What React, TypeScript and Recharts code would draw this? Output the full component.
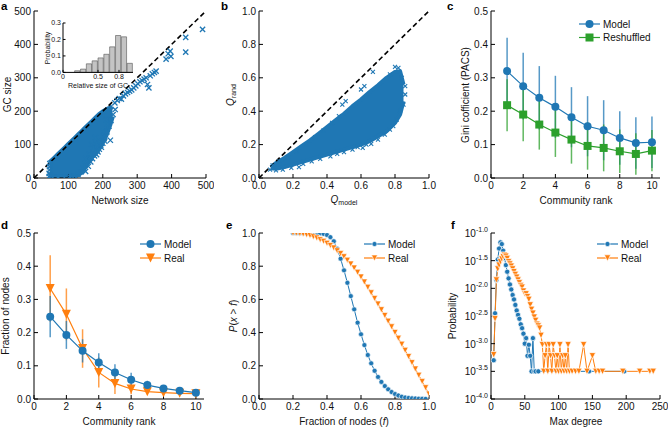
import React from 'react';
import { ComposedChart, Area, Scatter, Line, Bar, XAxis, YAxis, ReferenceLine, ErrorBar } from 'recharts';

const BLUE = '#1f77b4';
const ORANGE = '#ff7f0e';
const GREEN = '#2ca02c';
const FONT = '"Liberation Sans", Arial, sans-serif';
const FS = 10;
const INK = '#111';

// ---- a: GC size vs network size ----
const cloudAX = [45, 50, 60, 70, 80, 90, 100, 110, 120, 130, 140, 150, 160, 170, 180, 190, 200, 210, 220, 228];
const cloudALow = [3, 3, 3, 3, 3, 3, 4, 5, 7, 11, 20, 36, 52, 65, 76, 90, 108, 130, 158, 185];
const cloudAHigh = [46, 50, 60, 70, 80, 90, 100, 110, 120, 130, 140, 150, 160, 170, 180, 190, 198, 204, 209, 214];
const scatterA: [number, number][] = [
  [44, 4], [44, 14], [45, 24], [45, 34], [46, 43], [47, 8],
  [55, 2], [70, 3], [88, 2], [104, 4], [118, 6], [128, 10], [136, 18], [142, 28], [148, 40], [155, 52],
  [163, 63], [172, 72], [183, 84], [194, 98], [204, 118], [212, 138], [218, 155], [224, 172],
  [150, 20], [158, 35], [165, 48], [170, 58], [176, 66], [182, 70], [186, 78], [190, 86], [196, 92],
  [200, 104], [206, 110], [222, 113], [172, 90], [160, 72], [150, 58], [180, 105], [188, 112],
  [202, 140], [214, 162], [230, 190], [236, 205], [178, 120], [168, 100], [210, 175],
  [235, 225], [242, 232], [248, 238], [254, 236], [260, 246], [266, 252], [272, 256], [278, 260],
  [284, 264], [290, 270], [296, 276], [302, 282], [308, 288], [314, 292], [320, 296], [326, 300],
  [330, 280], [334, 270], [338, 306], [344, 312], [350, 316], [355, 320], [384, 356], [390, 372],
  [396, 380], [398, 364], [441, 421], [441, 377], [490, 445],
];
const histBins = [0.208, 0.292, 0.375, 0.458, 0.542, 0.625, 0.708, 0.792, 0.875, 0.958];
const histProb = [0.01, 0.02, 0.052, 0.07, 0.088, 0.11, 0.155, 0.224, 0.216, 0.055];

// ---- b: Q_rand vs Q_model ----
const cloudBX = [0.07, 0.1, 0.15, 0.2, 0.25, 0.3, 0.35, 0.4, 0.45, 0.5, 0.55, 0.6, 0.65, 0.7, 0.75, 0.8, 0.83, 0.85];
const cloudBLow = [0.058, 0.055, 0.065, 0.08, 0.095, 0.11, 0.125, 0.14, 0.155, 0.17, 0.185, 0.2, 0.22, 0.25, 0.28, 0.33, 0.38, 0.46];
const cloudBHigh = [0.065, 0.09, 0.12, 0.155, 0.19, 0.225, 0.265, 0.305, 0.345, 0.385, 0.43, 0.47, 0.515, 0.555, 0.6, 0.635, 0.64, 0.56];
const scatterB: [number, number][] = [
  [0.065, 0.05], [0.08, 0.075], [0.1, 0.045], [0.12, 0.1], [0.14, 0.05], [0.17, 0.125], [0.19, 0.06],
  [0.235, 0.065], [0.22, 0.16], [0.26, 0.085], [0.28, 0.2], [0.31, 0.1], [0.33, 0.245], [0.36, 0.115],
  [0.38, 0.285], [0.42, 0.13], [0.43, 0.33], [0.46, 0.145], [0.47, 0.37], [0.49, 0.44], [0.51, 0.46],
  [0.5, 0.155], [0.55, 0.17], [0.58, 0.185], [0.61, 0.18], [0.632, 0.2], [0.66, 0.205], [0.6, 0.53],
  [0.62, 0.55], [0.67, 0.635], [0.7, 0.23], [0.74, 0.26], [0.77, 0.29], [0.79, 0.31], [0.81, 0.35],
  [0.83, 0.4], [0.85, 0.44], [0.86, 0.5], [0.86, 0.55], [0.84, 0.6], [0.82, 0.66], [0.8, 0.665], [0.77, 0.62],
];

// ---- c: Gini coefficient vs community rank ----
const ranks = [1, 2, 3, 4, 5, 6, 7, 8, 9, 10];
const giniModel = [0.32, 0.275, 0.24, 0.213, 0.182, 0.155, 0.143, 0.12, 0.105, 0.107];
const giniModelErr = [0.1, 0.1, 0.095, 0.093, 0.09, 0.09, 0.09, 0.08, 0.077, 0.077];
const giniShuffled = [0.218, 0.19, 0.16, 0.136, 0.115, 0.096, 0.09, 0.08, 0.072, 0.082];
const giniShuffledErr = [0.078, 0.08, 0.075, 0.073, 0.072, 0.071, 0.07, 0.065, 0.062, 0.062];

// ---- d: fraction of nodes vs community rank ----
const fracModel = [0.248, 0.193, 0.145, 0.11, 0.08, 0.058, 0.042, 0.032, 0.025, 0.019];
const fracModelErr = [0.062, 0.042, 0.035, 0.028, 0.025, 0.021, 0.013, 0.008, 0.006, 0.004];
const fracReal = [0.333, 0.255, 0.152, 0.08, 0.047, 0.03, 0.022, 0.019, 0.017, 0.016];
const fracRealErr = [0.1, 0.078, 0.058, 0.045, 0.032, 0.016, 0.008, 0.005, 0.004, 0.003];

// ---- e: P(x > f) ----
const fGrid = [0.2, 0.22, 0.24, 0.26, 0.28, 0.3, 0.32, 0.34, 0.36, 0.38, 0.4, 0.42, 0.44, 0.46, 0.48, 0.5, 0.52,
  0.54, 0.56, 0.58, 0.6, 0.62, 0.64, 0.66, 0.68, 0.7, 0.72, 0.74, 0.76, 0.78, 0.8, 0.82, 0.84, 0.86, 0.88,
  0.9, 0.92, 0.94, 0.96, 0.98, 1.0];
const cdfModel = [1, 1, 1, 1, 1, 1, 1, 0.999, 0.998, 0.995, 0.988, 0.975, 0.95, 0.905, 0.845, 0.775, 0.7,
  0.62, 0.54, 0.46, 0.39, 0.325, 0.265, 0.215, 0.17, 0.133, 0.103, 0.078, 0.058, 0.042, 0.03, 0.021, 0.014,
  0.009, 0.006, 0.004, 0.003, 0.002, 0.001, 0.0005];
const cdfReal = [1, 0.999, 0.997, 0.994, 0.99, 0.985, 0.978, 0.97, 0.96, 0.95, 0.938, 0.925, 0.91, 0.893,
  0.876, 0.857, 0.836, 0.813, 0.789, 0.763, 0.735, 0.705, 0.673, 0.64, 0.606, 0.572, 0.538, 0.503, 0.469,
  0.435, 0.401, 0.366, 0.33, 0.293, 0.256, 0.219, 0.181, 0.143, 0.105, 0.068, 0.03];

// ---- f: max degree distribution (log10 probability) ----
const degModel = [4, 6, 8, 10, 12, 14, 16, 18, 20, 22, 24, 26, 28, 30, 32, 34, 36, 38, 40, 42, 44, 46, 48,
  50, 52, 54, 56, 58, 60, 62, 64, 66, 70, 145, 197];
const logpModel = [-3.3, -2.45, -1.85, -1.48, -1.28, -1.17, -1.2, -1.32, -1.45, -1.58, -1.7, -1.82, -1.93,
  -2.02, -2.12, -2.2, -2.3, -2.4, -2.48, -2.55, -2.65, -2.72, -2.82, -3.0, -2.9, -3.22, -3.02, -3.22, -3.5,
  -2.9, -3.5, -3.5, -3.5, -3.5, -3.5];
const degReal = [4, 6, 8, 10, 12, 14, 16, 18, 20, 22, 24, 26, 28, 30, 32, 34, 36, 38, 40, 42, 44, 46, 48, 50,
  52, 54, 56, 58, 60, 62, 64, 66, 68, 70, 72, 74, 76, 78, 80, 82, 84, 86, 88, 90, 92, 94, 96, 98, 100, 102,
  104, 106, 108, 110, 112, 114, 116, 120, 125, 130, 137, 142, 150, 155, 160, 165, 195, 220, 235, 240];
const logpReal = [-3.2, -2.55, -1.85, -1.65, -1.58, -1.52, -1.47, -1.43, -1.4, -1.42, -1.46, -1.52, -1.56,
  -1.6, -1.65, -1.7, -1.75, -1.8, -1.85, -1.9, -1.95, -1.98, -2.05, -2.1, -2.1, -2.15, -2.2, -2.3, -2.38,
  -2.45, -2.52, -2.58, -2.65, -2.68, -2.72, -2.85, -3.02, -3.5, -3.22, -3.02, -3.5, -3.02, -3.22, -3.5,
  -3.02, -3.22, -3.5, -3.22, -3.5, -3.02, -3.5, -3.22, -3.5, -3.22, -3.5, -3.02, -3.5, -3.5, -3.5, -3.5,
  -3.02, -3.5, -3.22, -3.5, -3.5, -3.5, -3.5, -3.5, -3.5, -3.5];

const PL = 40, PR = 8, PT = 8, PB = 30;
type Box = { l: number; r: number; t: number; b: number };
const boxA: Box = { l: 34, r: 206, t: 11, b: 178 };
const boxInset: Box = { l: 63.3, r: 133.3, t: 23.3, b: 72.7 };
const boxB: Box = { l: 259, r: 429, t: 11, b: 178 };
const boxC: Box = { l: 491, r: 660, t: 11, b: 178 };
const boxD: Box = { l: 34, r: 204, t: 233, b: 399 };
const boxE: Box = { l: 259, r: 429, t: 233, b: 399 };
const boxF: Box = { l: 491, r: 660, t: 233, b: 399 };

const fmt0 = (v: number) => String(v);
const fmt1 = (v: number) => v.toFixed(1);

function frame(o: {
  xd: number[]; xt: number[]; yd: number[]; yt: number[];
  xf: (v: number) => string; yf: (v: number) => string;
  yTick?: any; fs?: number; tk?: number; pl?: number; pb?: number; xm?: number; ym?: number;
}) {
  const fs = o.fs ?? FS, tk = o.tk ?? 4;
  const style = { fill: INK, fontSize: fs, fontFamily: FONT };
  const ln = { stroke: '#000', strokeWidth: 1 };
  return [
    <XAxis key="xb" type="number" dataKey="x" domain={o.xd} ticks={o.xt} allowDataOverflow interval={0}
      tickFormatter={o.xf} tickSize={-tk} tickMargin={tk + (o.xm ?? 4)} height={o.pb ?? PB} axisLine={ln} tickLine={ln} tick={style} />,
    <XAxis key="xt" xAxisId="top" orientation="top" type="number" dataKey="x" domain={o.xd} ticks={o.xt}
      allowDataOverflow interval={0} tickSize={-tk} height={0} axisLine={ln} tickLine={ln} tick={false} />,
    <YAxis key="yl" type="number" dataKey="y" domain={o.yd} ticks={o.yt} allowDataOverflow interval={0}
      tickFormatter={o.yf} tickSize={-tk} tickMargin={tk + (o.ym ?? 3)} width={o.pl ?? PL} axisLine={ln} tickLine={ln}
      tick={o.yTick ?? style} />,
    <YAxis key="yr" yAxisId="right" orientation="right" type="number" dataKey="y" domain={o.yd} ticks={o.yt}
      allowDataOverflow interval={0} tickSize={-tk} width={0} axisLine={ln} tickLine={ln} tick={false} />,
  ];
}

function Panel({ box, data, children, pl = PL, pr = PR, pt = PT, pb = PB }: any) {
  const w = box.r - box.l + pl + pr;
  const h = box.b - box.t + pt + pb;
  return (
    <div style={{ position: 'absolute', left: box.l - pl, top: box.t - pt }}>
      <ComposedChart width={w} height={h} data={data} margin={{ top: pt, right: pr, bottom: 0, left: 0 }}>
        {children}
      </ComposedChart>
    </div>
  );
}

const xMark = (s: number, w: number) => (p: any) => {
  const { cx, cy } = p;
  if (cx == null || cy == null) return <g />;
  return <path d={`M${cx - s},${cy - s}L${cx + s},${cy + s}M${cx - s},${cy + s}L${cx + s},${cy - s}`}
    stroke={BLUE} strokeWidth={w} fill="none" />;
};

function glyph(kind: string, s: number, color: string, edge: number, cx: number, cy: number, key?: any) {
  const st = edge ? { stroke: '#fff', strokeWidth: edge } : { stroke: 'none' };
  if (kind === 'o') return <circle key={key} cx={cx} cy={cy} r={s} fill={color} {...st} />;
  if (kind === 's') return <rect key={key} x={cx - s} y={cy - s} width={2 * s} height={2 * s} fill={color} {...st} />;
  return <path key={key} d={`M${cx - s},${cy - s}L${cx + s},${cy - s}L${cx},${cy + s}Z`} fill={color} {...st} />;
}

const marker = (kind: string, s: number, color: string, edge = 0) => (p: any) => {
  const { cx, cy, index } = p;
  if (cx == null || cy == null) return <g key={`m${index}`} />;
  return glyph(kind, s, color, edge, cx, cy, `m${index}`);
};

const PowTick = (p: any) => {
  const { x, y, payload } = p;
  return (
    <text x={x} y={y} dy={4} textAnchor="end" fontSize={FS} fontFamily={FONT} fill={INK}>
      <tspan>10</tspan>
      <tspan dy={-5} fontSize={7}>{Number(payload.value).toFixed(1)}</tspan>
    </text>
  );
};

const cloudA = cloudAX.map((x, i) => ({ x, low: cloudALow[i], high: cloudAHigh[i] }));
const ptsA = scatterA.map(([x, y]) => ({ x, y }));
const hist = histBins.map((x, i) => ({ x, p: histProb[i] }));
const cloudB = cloudBX.map((x, i) => ({ x, low: cloudBLow[i], high: cloudBHigh[i] }));
const ptsB = scatterB.map(([x, y]) => ({ x, y }));
const cModel = ranks.map((x, i) => ({ x, y: giniModel[i], err: giniModelErr[i] }));
const cShuf = ranks.map((x, i) => ({ x, y: giniShuffled[i], err: giniShuffledErr[i] }));
const dModel = ranks.map((x, i) => ({ x, y: fracModel[i], err: fracModelErr[i] }));
const dReal = ranks.map((x, i) => ({ x, y: fracReal[i], err: fracRealErr[i] }));
const eModel = cdfModel.map((y, i) => ({ x: fGrid[i], y }));
const eReal = cdfReal.map((y, i) => ({ x: fGrid[i], y }));
const fModel = degModel.map((x, i) => ({ x, y: logpModel[i] }));
const fReal = degReal.map((x, i) => ({ x, y: logpReal[i] }));

const range = (d: any) => [d.low, d.high];

function LegendRow({ x, y, kind, s, color, edge = 0, label }: any) {
  return (
    <g>
      <line x1={x} x2={x + 21} y1={y} y2={y} stroke={color} strokeWidth={1.2} />
      {glyph(kind, s, color, edge, x + 10.5, y)}
      <text x={x + 24} y={y + 3.6} fontSize={FS} fontFamily={FONT} fill={INK}>{label}</text>
    </g>
  );
}

function YTitle({ cx, cy, children }: any) {
  return (
    <text transform={`translate(${cx},${cy}) rotate(-90)`} textAnchor="middle" dy="0.35em"
      fontSize={FS} fontFamily={FONT} fill={INK}>{children}</text>
  );
}

function XTitle({ cx, cy, children }: any) {
  return <text x={cx} y={cy} dy="0.35em" textAnchor="middle" fontSize={FS} fontFamily={FONT} fill={INK}>{children}</text>;
}

function Letter({ x, y, children }: any) {
  return <text x={x} y={y} fontSize={11.5} fontWeight="bold" fontFamily={FONT} fill="#000">{children}</text>;
}

export default function App() {
  return (
    <div style={{ position: 'absolute', left: 0, top: 0, width: 669, height: 428, background: '#fff', overflow: 'hidden' }}>
      <Panel box={boxA} data={cloudA}>
        {frame({ xd: [0, 500], xt: [0, 100, 200, 300, 400, 500], yd: [0, 500], yt: [0, 100, 200, 300, 400, 500], xf: fmt0, yf: fmt0 })}
        <Area dataKey={range} type="linear" stroke={BLUE} strokeWidth={5} strokeLinejoin="round" fill={BLUE}
          fillOpacity={1} dot={false} activeDot={false} isAnimationActive={false} />
        <Scatter data={ptsA} shape={xMark(2.6, 1.3)} isAnimationActive={false} />
        <ReferenceLine segment={[{ x: 0, y: 0 }, { x: 500, y: 500 }]} stroke="#000" strokeWidth={1.6} strokeDasharray="5 3" />
      </Panel>

      <Panel box={boxInset} data={hist} pl={20} pr={3} pt={3} pb={14}>
        {frame({ xd: [0, 1], xt: [0, 0.5, 0.8], yd: [0, 0.3], yt: [0, 0.1, 0.2, 0.3], xf: fmt0, yf: fmt1, fs: 7, tk: 2.5, pl: 20, pb: 14, xm: 1.5, ym: 2 })}
        <Bar dataKey="p" barSize={70 / 12} fill="#c4c4c4" stroke="#555" strokeWidth={0.6} isAnimationActive={false} />
      </Panel>

      <Panel box={boxB} data={cloudB}>
        {frame({ xd: [0, 1], xt: [0, 0.2, 0.4, 0.6, 0.8, 1], yd: [0, 1], yt: [0, 0.2, 0.4, 0.6, 0.8, 1], xf: fmt1, yf: fmt1 })}
        <Area dataKey={range} type="linear" stroke={BLUE} strokeWidth={4} strokeLinejoin="round" fill={BLUE}
          fillOpacity={1} dot={false} activeDot={false} isAnimationActive={false} />
        <Scatter data={ptsB} shape={xMark(2, 1.1)} isAnimationActive={false} />
        <ReferenceLine segment={[{ x: 0, y: 0 }, { x: 1, y: 1 }]} stroke="#000" strokeWidth={1.6} strokeDasharray="5 3" />
      </Panel>

      <Panel box={boxC}>
        {frame({ xd: [0, 10.5], xt: [0, 2, 4, 6, 8, 10], yd: [0, 0.5], yt: [0, 0.1, 0.2, 0.3, 0.4, 0.5], xf: fmt0, yf: fmt1 })}
        <Line data={cModel} dataKey="y" stroke={BLUE} strokeWidth={1.2} dot={marker('o', 4, BLUE)} activeDot={false} isAnimationActive={false}>
          <ErrorBar dataKey="err" width={0} stroke={BLUE} strokeOpacity={0.75} strokeWidth={1.5} direction="y" isAnimationActive={false} />
        </Line>
        <Line data={cShuf} dataKey="y" stroke={GREEN} strokeWidth={1.2} dot={marker('s', 4, GREEN)} activeDot={false} isAnimationActive={false}>
          <ErrorBar dataKey="err" width={0} stroke={GREEN} strokeOpacity={0.75} strokeWidth={1.5} direction="y" isAnimationActive={false} />
        </Line>
      </Panel>

      <Panel box={boxD}>
        {frame({ xd: [0, 10.5], xt: [0, 2, 4, 6, 8, 10], yd: [0, 0.5], yt: [0, 0.1, 0.2, 0.3, 0.4, 0.5], xf: fmt0, yf: fmt1 })}
        <Line data={dReal} dataKey="y" stroke={ORANGE} strokeWidth={1.2} dot={marker('v', 4.5, ORANGE)} activeDot={false} isAnimationActive={false}>
          <ErrorBar dataKey="err" width={0} stroke={ORANGE} strokeOpacity={0.75} strokeWidth={1.5} direction="y" isAnimationActive={false} />
        </Line>
        <Line data={dModel} dataKey="y" stroke={BLUE} strokeWidth={1.2} dot={marker('o', 4, BLUE)} activeDot={false} isAnimationActive={false}>
          <ErrorBar dataKey="err" width={0} stroke={BLUE} strokeOpacity={0.75} strokeWidth={1.5} direction="y" isAnimationActive={false} />
        </Line>
      </Panel>

      <Panel box={boxE}>
        {frame({ xd: [0, 1], xt: [0, 0.2, 0.4, 0.6, 0.8, 1], yd: [0, 1], yt: [0, 0.2, 0.4, 0.6, 0.8, 1], xf: fmt1, yf: fmt1 })}
        <Line data={eModel} dataKey="y" stroke={BLUE} strokeWidth={1} dot={marker('o', 2.5, BLUE, 0.6)} activeDot={false} isAnimationActive={false} />
        <Line data={eReal} dataKey="y" stroke={ORANGE} strokeWidth={1} dot={marker('v', 3, ORANGE, 0.6)} activeDot={false} isAnimationActive={false} />
      </Panel>

      <Panel box={boxF}>
        {frame({ xd: [0, 250], xt: [0, 50, 100, 150, 200, 250], yd: [-4, -1], yt: [-4, -3.5, -3, -2.5, -2, -1.5, -1], xf: fmt0, yf: fmt1, yTick: <PowTick /> })}
        <Line data={fModel} dataKey="y" stroke={BLUE} strokeWidth={1} dot={marker('o', 2.6, BLUE, 0.7)} activeDot={false} isAnimationActive={false} />
        <Line data={fReal} dataKey="y" stroke={ORANGE} strokeWidth={1} dot={marker('v', 3.2, ORANGE, 0.7)} activeDot={false} isAnimationActive={false} />
      </Panel>

      <svg width={669} height={428} style={{ position: 'absolute', left: 0, top: 0, pointerEvents: 'none' }}>
        <Letter x={1} y={10}>a</Letter>
        <Letter x={221} y={10}>b</Letter>
        <Letter x={447} y={10}>c</Letter>
        <Letter x={1} y={229}>d</Letter>
        <Letter x={226} y={229}>e</Letter>
        <Letter x={451} y={229}>f</Letter>

        <YTitle cx={7} cy={94.5}>GC size</YTitle>
        <XTitle cx={120} cy={200}>Network size</XTitle>
        <text transform="translate(48,48) rotate(-90)" textAnchor="middle" dy="0.35em" fontSize={7} fontFamily={FONT} fill={INK}>Probability</text>
        <text x={98} y={86} dy="0.35em" textAnchor="middle" fontSize={7} fontFamily={FONT} fill={INK}>Relative size of GC</text>

        <text transform="translate(230,95) rotate(-90)" textAnchor="middle" dy="0.35em" fontSize={FS} fontFamily={FONT} fill={INK}>
          <tspan fontStyle="italic">Q</tspan><tspan fontSize={7} dy={2.5}>rand</tspan>
        </text>
        <text x={344} y={199} dy="0.35em" textAnchor="middle" fontSize={FS} fontFamily={FONT} fill={INK}>
          <tspan fontStyle="italic">Q</tspan><tspan fontSize={7} dy={2.5}>model</tspan>
        </text>

        <YTitle cx={465} cy={95}>Gini cofficient (PACS)</YTitle>
        <XTitle cx={576} cy={200}>Community rank</XTitle>
        <LegendRow x={579} y={24} kind="o" s={4} color={BLUE} label="Model" />
        <LegendRow x={579} y={37.5} kind="s" s={4} color={GREEN} label="Reshuffled" />

        <YTitle cx={5} cy={316}>Fraction of nodes</YTitle>
        <XTitle cx={119} cy={421}>Community rank</XTitle>
        <LegendRow x={140} y={244} kind="o" s={4} color={BLUE} label="Model" />
        <LegendRow x={140} y={258} kind="v" s={4.5} color={ORANGE} label="Real" />

        <text transform="translate(233,316) rotate(-90)" textAnchor="middle" dy="0.35em" fontSize={FS} fontFamily={FONT} fill={INK}>
          <tspan fontStyle="italic">P</tspan>(<tspan fontStyle="italic">x</tspan> {'>'} <tspan fontStyle="italic">f</tspan>)
        </text>
        <text x={344} y={421} dy="0.35em" textAnchor="middle" fontSize={FS} fontFamily={FONT} fill={INK}>
          Fraction of nodes (<tspan fontStyle="italic">f</tspan>)
        </text>
        <LegendRow x={364} y={244} kind="o" s={2.5} color={BLUE} edge={0.6} label="Model" />
        <LegendRow x={364} y={258} kind="v" s={3} color={ORANGE} edge={0.6} label="Real" />

        <YTitle cx={452} cy={316}>Probability</YTitle>
        <XTitle cx={576} cy={421}>Max degree</XTitle>
        <LegendRow x={597} y={244} kind="o" s={2.6} color={BLUE} edge={0.7} label="Model" />
        <LegendRow x={597} y={258} kind="v" s={3.2} color={ORANGE} edge={0.7} label="Real" />
      </svg>
    </div>
  );
}
